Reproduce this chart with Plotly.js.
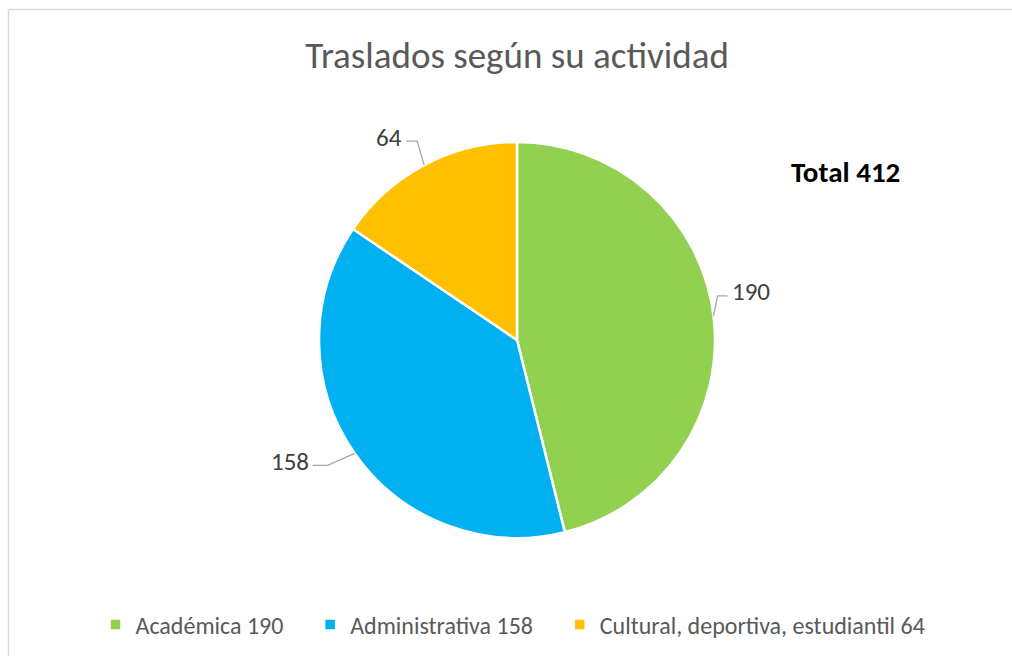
<!DOCTYPE html>
<html><head><meta charset="utf-8">
<script src="https://cdn.plot.ly/plotly-3.0.1.min.js"></script>
<style>html,body{margin:0;padding:0;background:#fff}#chart{width:1012px;height:656px}</style>
</head><body><div id="chart"></div>
<script>
const categories = ["Académica 190", "Administrativa 158", "Cultural, deportiva, estudiantil 64"];
const values = [190, 158, 64];
const sliceLabels = ["190", "158", "64"];
const colors = ["#92D050", "#00B0F0", "#FFC000"];
const totalText = "Total 412";

const W = 1012, H = 656;
const cx = 517, cy = 340, R = 198;
const FONT = "Carlito, Lato, 'Liberation Sans', sans-serif";

// leader-line geometry (pixel offsets from slice edge)
const elbow = [[4, -20, 10], [-27, 12, -15], [-7, -24, -11]];

const total = values.reduce((a, b) => a + b, 0);
const px = x => x / W, py = y => 1 - y / H;
let shapes = [], annotations = [];
let cum = 0;
values.forEach((v, i) => {
  const mid = (cum + v / 2) / total * 2 * Math.PI;
  cum += v;
  const ex = cx + R * Math.sin(mid), ey = cy - R * Math.cos(mid);
  const [dx, dy, hx] = elbow[i];
  const bx = ex + dx, by = ey + dy, tx = bx + hx;
  shapes.push({type: "path", xref: "paper", yref: "paper",
    path: `M${px(ex)},${py(ey)} L${px(bx)},${py(by)} L${px(tx)},${py(by)}`,
    line: {color: "#A6A6A6", width: 1.3}});
  annotations.push({xref: "paper", yref: "paper", x: px(tx + (hx > 0 ? 2 : -2)), y: py(by - 4),
    xanchor: hx > 0 ? "left" : "right", yanchor: "middle", showarrow: false,
    text: sliceLabels[i], font: {family: FONT, size: 25, color: "#404040"}});
});
annotations.push({xref: "paper", yref: "paper", x: px(845), y: py(172), xanchor: "center", yanchor: "middle",
  showarrow: false, text: "<b>" + totalText + "</b>", font: {family: FONT, size: 29, color: "#000000"}});
// chart-area border (top and left visible)
shapes.push({type: "line", xref: "paper", yref: "paper", x0: px(8.5), y0: py(9.5), x1: 1.05, y1: py(9.5), line: {color: "#D9D9D9", width: 1.5}});
shapes.push({type: "line", xref: "paper", yref: "paper", x0: px(8.5), y0: py(9.5), x1: px(8.5), y1: -0.05, line: {color: "#D9D9D9", width: 1.5}});

// extra spacing between legend entries
const pad = "\u00A0".repeat(4);
const legendLabels = categories.map((c, i) => i < categories.length - 1 ? c + pad : c);

const data = [{
  type: "pie", labels: legendLabels, values: values, sort: false, direction: "clockwise", rotation: 0,
  marker: {colors: colors, line: {color: "#FFFFFF", width: 2.5}},
  textinfo: "none", hoverinfo: "label+value",
  domain: {x: [px(cx - R), px(cx + R)], y: [py(cy + R), py(cy - R)]}
}];
const layout = {
  width: W, height: H, margin: {l: 0, r: 0, t: 0, b: 0},
  paper_bgcolor: "#FFFFFF",
  title: {text: "Traslados según su actividad", x: px(517), xanchor: "center", y: py(55), yanchor: "middle",
    font: {family: FONT, size: 37, color: "#595959"}},
  showlegend: true,
  legend: {orientation: "h", x: px(513), xanchor: "center", y: py(625), yanchor: "middle",
    font: {family: FONT, size: 24, color: "#595959"}, traceorder: "normal"},
  shapes: shapes, annotations: annotations
};
Plotly.newPlot("chart", data, layout, {displayModeBar: false, staticPlot: true});
</script></body></html>
